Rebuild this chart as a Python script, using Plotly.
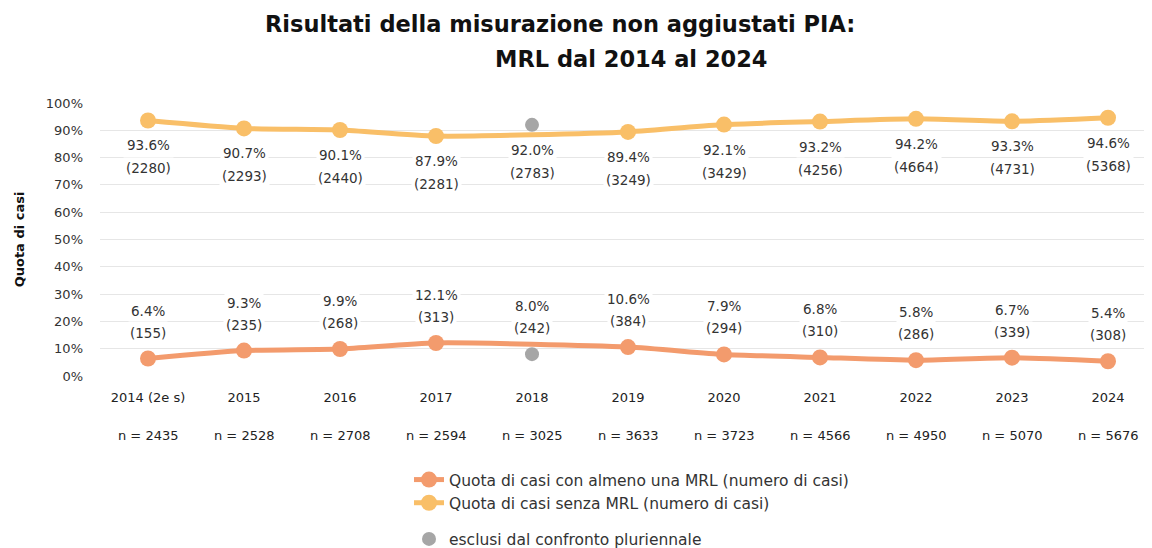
import plotly.graph_objects as go

# ---- data ----
years = ["2014 (2e s)", "2015", "2016", "2017", "2018", "2019", "2020", "2021", "2022", "2023", "2024"]
n_total = [2435, 2528, 2708, 2594, 3025, 3633, 3723, 4566, 4950, 5070, 5676]
pct_senza = [93.6, 90.7, 90.1, 87.9, None, 89.4, 92.1, 93.2, 94.2, 93.3, 94.6]
cnt_senza = [2280, 2293, 2440, 2281, 2783, 3249, 3429, 4256, 4664, 4731, 5368]
pct_mrl = [6.4, 9.3, 9.9, 12.1, None, 10.6, 7.9, 6.8, 5.8, 6.7, 5.4]
cnt_mrl = [155, 235, 268, 313, 242, 384, 294, 310, 286, 339, 308]
excl_years = ["2018", "2018"]
excl_values = [92.0, 8.0]

C_SENZA = "#F9BF68"
C_MRL = "#F39B6D"
C_GREY = "#A6A6A6"
FONT = "DejaVu Sans"
TXT = "#333333"

# page body has an 8px margin; positions below are in figure coordinates
L, R, T = 92, 0, 95
W, H = 1152, 548
ph = 274
B = H - T - ph
pw = W - L - R
SP = 96  # pixels per category


def px(fx):
    return (fx - L) / pw


def py(fy):
    return (H - B - fy) / ph


fig = go.Figure()

fig.add_trace(go.Scatter(
    x=years, y=pct_mrl, mode="lines+markers", connectgaps=True,
    name="Quota di casi con almeno una MRL (numero di casi)",
    line=dict(color=C_MRL, width=5, shape="spline", smoothing=0.6),
    marker=dict(color=C_MRL, size=16), legendgroup="a", cliponaxis=False,
))
fig.add_trace(go.Scatter(
    x=years, y=pct_senza, mode="lines+markers", connectgaps=True,
    name="Quota di casi senza MRL (numero di casi)",
    line=dict(color=C_SENZA, width=5, shape="spline", smoothing=0.6),
    marker=dict(color=C_SENZA, size=16), legendgroup="a", cliponaxis=False,
))
fig.add_trace(go.Scatter(
    x=excl_years, y=excl_values, mode="markers",
    name="esclusi dal confronto pluriennale",
    marker=dict(color=C_GREY, size=14), legendgroup="b", cliponaxis=False,
))

annotations = []
for i, yr in enumerate(years):
    ps = pct_senza[i] if pct_senza[i] is not None else excl_values[0]
    pm = pct_mrl[i] if pct_mrl[i] is not None else excl_values[1]
    for val, txt, shift in [(ps, f"{ps:.1f}%", -25), (ps, f"({cnt_senza[i]})", -48),
                            (pm, f"{pm:.1f}%", 48), (pm, f"({cnt_mrl[i]})", 26)]:
        annotations.append(dict(
            x=i, y=val, xref="x", yref="y", text=txt, showarrow=False,
            yshift=shift, bgcolor="white", borderpad=2,
            font=dict(family=FONT, size=13.5, color=TXT),
        ))
    annotations.append(dict(
        x=i, y=0, xref="x", yref="y", text=f"n = {n_total[i]:d}", showarrow=False,
        yshift=-59, font=dict(family=FONT, size=13, color="#222222"),
    ))

# title (two lines, offset as in the original)
annotations.append(dict(
    x=px(552), y=py(16), xref="paper", yref="paper",
    text="<b>Risultati della misurazione non aggiustati PIA:</b>",
    showarrow=False, xanchor="center", yanchor="middle",
    font=dict(family="DejaVu Sans", size=22.5, color="#111111"),
))
annotations.append(dict(
    x=px(623), y=py(51), xref="paper", yref="paper",
    text="<b>MRL dal 2014 al 2024</b>",
    showarrow=False, xanchor="center", yanchor="middle",
    font=dict(family="DejaVu Sans", size=22.5, color="#111111"),
))

fig.update_layout(
    width=W, height=H,
    margin=dict(l=L, r=R, t=T, b=B),
    paper_bgcolor="white", plot_bgcolor="white",
    font=dict(family=FONT, size=13, color=TXT),
    showlegend=True,
    legend=dict(
        x=px(401), y=py(456), xanchor="left", yanchor="top",
        font=dict(family=FONT, size=15.5, color=TXT),
        tracegroupgap=13, traceorder="grouped", itemwidth=30,
        bgcolor="rgba(0,0,0,0)",
    ),
    annotations=annotations,
)
fig.update_xaxes(
    type="category", range=[-0.5, -0.5 + pw / SP], showgrid=False, showline=False,
    zeroline=False, ticks="", tickfont=dict(family=FONT, size=13, color="#222222"),
    ticklabelstandoff=12,
)
fig.update_yaxes(
    range=[0, 100], dtick=10, ticksuffix="%", showgrid=True, gridcolor="#E6E6E6",
    gridwidth=1, zeroline=False, showline=False, ticks="",
    tickfont=dict(family=FONT, size=13, color=TXT), ticklabelstandoff=16,
    title=dict(text="<b>Quota di casi</b>", standoff=18,
               font=dict(family=FONT, size=13, color="#111111")),
)

fig.write_html("out.html", config={"displayModeBar": False})
